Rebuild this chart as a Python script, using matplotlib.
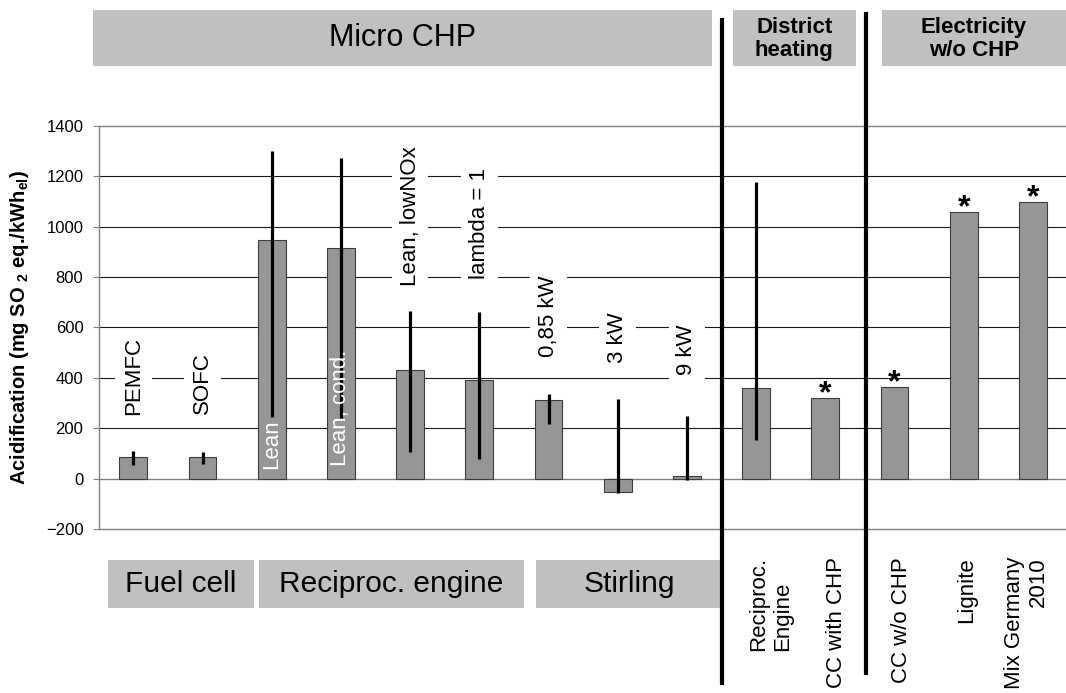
import matplotlib
matplotlib.use("Agg")
import matplotlib.pyplot as plt
import matplotlib.transforms as mtransforms
import numpy as np
from matplotlib.lines import Line2D
from matplotlib.patches import Rectangle

plt.rcParams["font.family"] = ["Liberation Sans", "DejaVu Sans"]
plt.rcParams["mathtext.fontset"] = "custom"
plt.rcParams["mathtext.rm"] = "Liberation Sans:bold"
plt.rcParams["mathtext.default"] = "rm"

# data (mg SO2 eq./kWh_el)
categories = ["PEMFC", "SOFC", "Lean", "Lean, cond.", "Lean, lowNOx", "lambda = 1",
              "0,85 kW", "3 kW", "9 kW", "Reciproc.\nEngine", "CC with CHP",
              "CC w/o CHP", "Lignite", "Mix Germany\n2010"]
values = [88, 88, 948, 914, 432, 393, 313, -52, 13, 362, 321, 365, 1057, 1099]
err_low = [55, 58, 247, 242, 108, 78, 218, -57, -4, 155, None, None, None, None]
err_high = [111, 106, 1300, 1273, 666, 660, 336, 316, 251, 1178, None, None, None, None]
starred = [False] * 10 + [True] * 4

top_groups = ["Micro CHP", "District\nheating", "Electricity\nw/o CHP"]
bottom_groups = ["Fuel cell", "Reciproc. engine", "Stirling"]

# label placement (data y of label centre for the micro CHP labels)
label_y = [408, 378, 139, 281, 1040, 1013, 646, 558, 513]
white_labels = [2, 3]
below_x = {9: 9.21, 10: 10.16, 11: 11.10, 12: 12.04, 13: 12.91}

W, H = 1066, 693
BOX = "#c0c0c0"


def fig_rect(x0, y0, x1, y1):
    return Rectangle((x0 / W, 1 - y1 / H), (x1 - x0) / W, (y1 - y0) / H,
                     transform=fig.transFigure, facecolor=BOX, edgecolor="none", zorder=0)


fig = plt.figure(figsize=(W / 100, H / 100), dpi=100)
ax = fig.add_axes([98.7 / W, 1 - 529.3 / H, 968.8 / W, (529.3 - 125.7) / H])

x = np.arange(len(categories))
ax.bar(x, values, width=0.4, color="#969696", edgecolor="#3c3c3c", linewidth=0.8, zorder=2)
for xi, lo, hi in zip(x, err_low, err_high):
    if lo is None:
        continue
    ax.vlines(xi, lo, hi, color="black", linewidth=2.3, zorder=3)

ax.set_xlim(-0.5, 13.5)
ax.set_ylim(-200, 1400)
ax.set_yticks(np.arange(-200, 1401, 200))
ax.set_xticks([])
for yv in range(200, 1201, 200):
    ax.axhline(yv, color="#1a1a1a", linewidth=0.8, zorder=1)
ax.axhline(0, color="#808080", linewidth=1, zorder=1.5)
for side in ["left", "bottom", "top"]:
    ax.spines[side].set_color("#808080")
    ax.spines[side].set_linewidth(1)
ax.spines["right"].set_visible(False)
ax.tick_params(axis="y", direction="out", length=4, color="#808080", labelsize=12, pad=7)

# labels for the micro CHP bars
for i in range(9):
    if i in white_labels:
        ax.text(x[i], label_y[i], categories[i], rotation=90, ha="center", va="center",
                fontsize=16, color="white", zorder=4)
    else:
        ax.text(x[i], label_y[i], categories[i], rotation=90, ha="center", va="center",
                fontsize=16, color="black", zorder=4,
                bbox=dict(boxstyle="square,pad=0.35", facecolor="white", edgecolor="none"))

# stars above reference bars
for xi, v, s in zip(x, values, starred):
    if s:
        ax.annotate("*", xy=(xi, v), xytext=(0, -3), textcoords="offset points",
                    ha="center", va="baseline", fontsize=23, fontweight="bold")

# category labels below the axis
trans = mtransforms.blended_transform_factory(ax.transData, fig.transFigure)
for i, xp in below_x.items():
    ax.text(xp, 1 - 557 / H, categories[i], transform=trans, rotation=90,
            ha="center", va="top", fontsize=16, clip_on=False,
            multialignment="right" if i == 13 else "left")

# group boxes
fig.add_artist(fig_rect(93, 10, 712, 65.7))
fig.text((93 + 712) / 2 / W, 1 - 38 / H, top_groups[0], ha="center", va="center", fontsize=22)
fig.add_artist(fig_rect(733, 10, 855.7, 65.7))
fig.text((733 + 855.7) / 2 / W, 1 - 39 / H, top_groups[1], ha="center", va="center",
         fontsize=16, fontweight="bold", linespacing=1.12)
fig.add_artist(fig_rect(881.7, 10, 1066, 65.7))
fig.text((881.7 + 1066) / 2 / W, 1 - 39 / H, top_groups[2], ha="center", va="center",
         fontsize=16, fontweight="bold", linespacing=1.12)

for (x0, x1), name in zip([(108, 254), (259, 524), (536, 721.7)], bottom_groups):
    fig.add_artist(fig_rect(x0, 559.5, x1, 608.2))
    fig.text((x0 + x1) / 2 / W, 1 - 584 / H, name, ha="center", va="center", fontsize=21.5)

# separator lines
for xs, y0, y1 in [(721.7, 20, 683), (865.7, 14, 673)]:
    fig.add_artist(Line2D([xs / W, xs / W], [1 - y0 / H, 1 - y1 / H],
                          transform=fig.transFigure, color="black", linewidth=3))

fig.text(20 / W, 1 - 327.5 / H, r"Acidification (mg SO $_{2}$ eq./kWh$_{el}$)",
         rotation=90, ha="center", va="center", fontsize=14.5, fontweight="bold")

fig.savefig("out.png", dpi=100)
